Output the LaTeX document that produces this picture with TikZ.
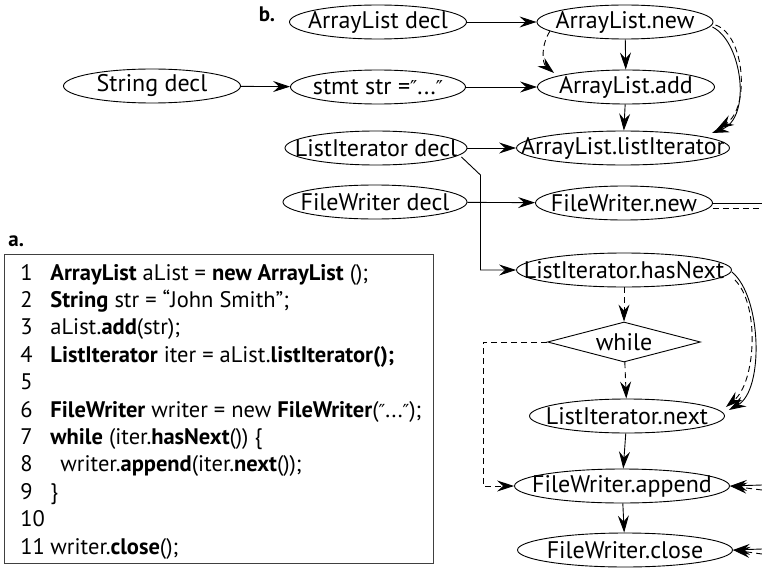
\documentclass[tikz,border=0pt]{standalone}
\usepackage{fontspec}
\setmainfont{PT Sans}
\newfontfamily\primefont{DejaVu Sans}
\usetikzlibrary{arrows.meta,shapes.geometric}

\newcommand{\ctr}[1]{\makebox[0pt][c]{#1}}
\newcommand{\dprime}{{\primefont\scalebox{0.8}{″}}}

\begin{document}
\begin{tikzpicture}[
  x=1pt, y=-1pt,
  font=\fontsize{24}{28}\selectfont,
  line width=0.9pt,
  ev/.style={ellipse, draw, inner sep=0pt, minimum height=34pt},
  dm/.style={diamond, draw, inner sep=0pt, minimum width=153pt, minimum height=40pt},
  arr/.style={-{Stealth[length=17pt,width=11pt,inset=6pt]}},
  dsh/.style={dash pattern=on 6pt off 4pt},
  codeline/.style={anchor=base west, inner sep=0pt, font=\fontsize{22.5}{27}\selectfont},
]
\useasboundingbox (0,0) rectangle (762,567);

% ---- panel b: flow graph ----
\node[font=\bfseries\fontsize{21}{24}\selectfont] (lb) at (267,14) {b.};

\node[ev, minimum width=177pt] (ad) at (378,22)  {\ctr{ArrayList decl}};
\node[ev, minimum width=176pt] (an) at (625,22)  {\ctr{ArrayList.new}};
\node[ev, minimum width=177pt] (sd) at (152,86)  {\ctr{String decl}};
\node[ev, minimum width=175pt] (ss) at (378,87)  {\ctr{stmt str =\dprime...\dprime}};
\node[ev, minimum width=177pt] (aa) at (626,87)  {\ctr{ArrayList.add}};
\node[ev, minimum width=182pt] (ld) at (376,148) {\ctr{ListIterator decl}};
\node[ev, minimum width=213pt] (al) at (623,148) {\ctr{ArrayList.listIterator}};
\node[ev, minimum width=184pt] (fd) at (375,202) {\ctr{FileWriter decl}};
\node[ev, minimum width=177pt] (fn) at (624,203) {\ctr{FileWriter.new}};
\node[ev, minimum width=215pt] (hn) at (624,270) {\ctr{ListIterator.hasNext}};
\node[dm] (wh) at (624,342) {\ctr{while}};
\node[ev, minimum width=195pt] (nx) at (627,416) {\ctr{ListIterator.next}};
\node[ev, minimum width=215pt] (ap) at (622,486) {\ctr{FileWriter.append}};
\node[ev, minimum width=215pt] (cl) at (625,550) {\ctr{FileWriter.close}};

% free ends at the right edge
\coordinate (fo1) at (762,203);
\coordinate (fo2) at (762,208);
\coordinate (ai1) at (762,485);
\coordinate (ai2) at (762,490);
\coordinate (ci1) at (762,549);
\coordinate (ci2) at (762,554);

% straight connectors
\draw[arr] (ad) -- (an);
\draw[arr] (sd) -- (ss);
\draw[arr] (ss) -- (aa);
\draw[arr] (an) -- (aa);
\draw[arr] (aa) -- (al);
\draw[arr] (ld) -- (al);
\draw[arr] (fd) -- (fn);
\draw[arr, dsh] (hn) -- (wh);
\draw[arr, dsh] (wh) -- (nx);
\draw[arr] (nx) -- (ap);
\draw[arr] (ap) -- (cl);

% ListIterator decl down to hasNext
\draw[arr] ([shift={(-6,9)}]ld.east) -- ++(19,18) |- (hn.west);

% loop exit from while to append
\draw[arr, dsh] (wh.west) -- ++(-64,0) |- (ap.west);

% curved data / control edges
\draw[arr, dsh] (an.187) .. controls +(-9,14) and +(-12,-10) .. ([shift={(17,-14)}]aa.west);
\draw[arr] ([shift={(-1,5)}]an.east) .. controls +(30,15) and +(40,-15) .. ([shift={(-18,-15)}]al.east);
\draw[arr, dsh] ([shift={(2,3)}]an.east) .. controls +(30,10) and +(33,-20) .. ([shift={(-13,-19)}]al.east);

\draw[arr] ([shift={(0,2)}]hn.east) .. controls +(30,25) and +(35,-20) .. ([shift={(4,-6)}]nx.east);
\draw[arr, dsh] ([shift={(3,10)}]hn.east) .. controls +(25,25) and +(30,-25) .. ([shift={(1,-9)}]nx.east);

% edges leaving / entering through the right border
\draw (fn.east) -- (fo1);
\draw[dsh] ([shift={(0,5)}]fn.east) -- (fo2);
\draw[arr] (ai1) -- (ap.east);
\draw[arr, dsh] (ai2) -- (ap.east);
\draw[arr] (ci1) -- (cl.east);
\draw[arr, dsh] (ci2) -- (cl.east);

% ---- panel a: source listing ----
\node[font=\bfseries\fontsize{21}{24}\selectfont, anchor=base west, inner sep=0pt] (la) at (8,246) {a.};
\draw[line width=0.8pt, black!75] (4,254) rectangle (433,563);

\foreach \i/\num/\txt in {
  1/1/{\textbf{ArrayList} aList = \textbf{new ArrayList} ();},
  2/2/{\textbf{String} str = “John Smith”;},
  3/3/{aList.\textbf{add}(str);},
  4/4/{\textbf{ListIterator} iter = aList.\textbf{listIterator();}},
  5/5/{},
  6/6/{\textbf{FileWriter} writer = new \textbf{FileWriter}(\dprime...\dprime);},
  7/7/{\textbf{while} (iter.\textbf{hasNext}()) \{},
  8/8/{\hspace{10pt}writer.\textbf{append}(iter.\textbf{next}());},
  9/9/{\}},
  10/10/{},
  11/11/{writer.\textbf{close}();}
}{
  \node[codeline] (n\i) at (20,{280+27.4*(\i-1)}) {\num};
  \node[codeline] (c\i) at (50,{280+27.4*(\i-1)}) {\strut\txt};
}
\end{tikzpicture}
\end{document}
